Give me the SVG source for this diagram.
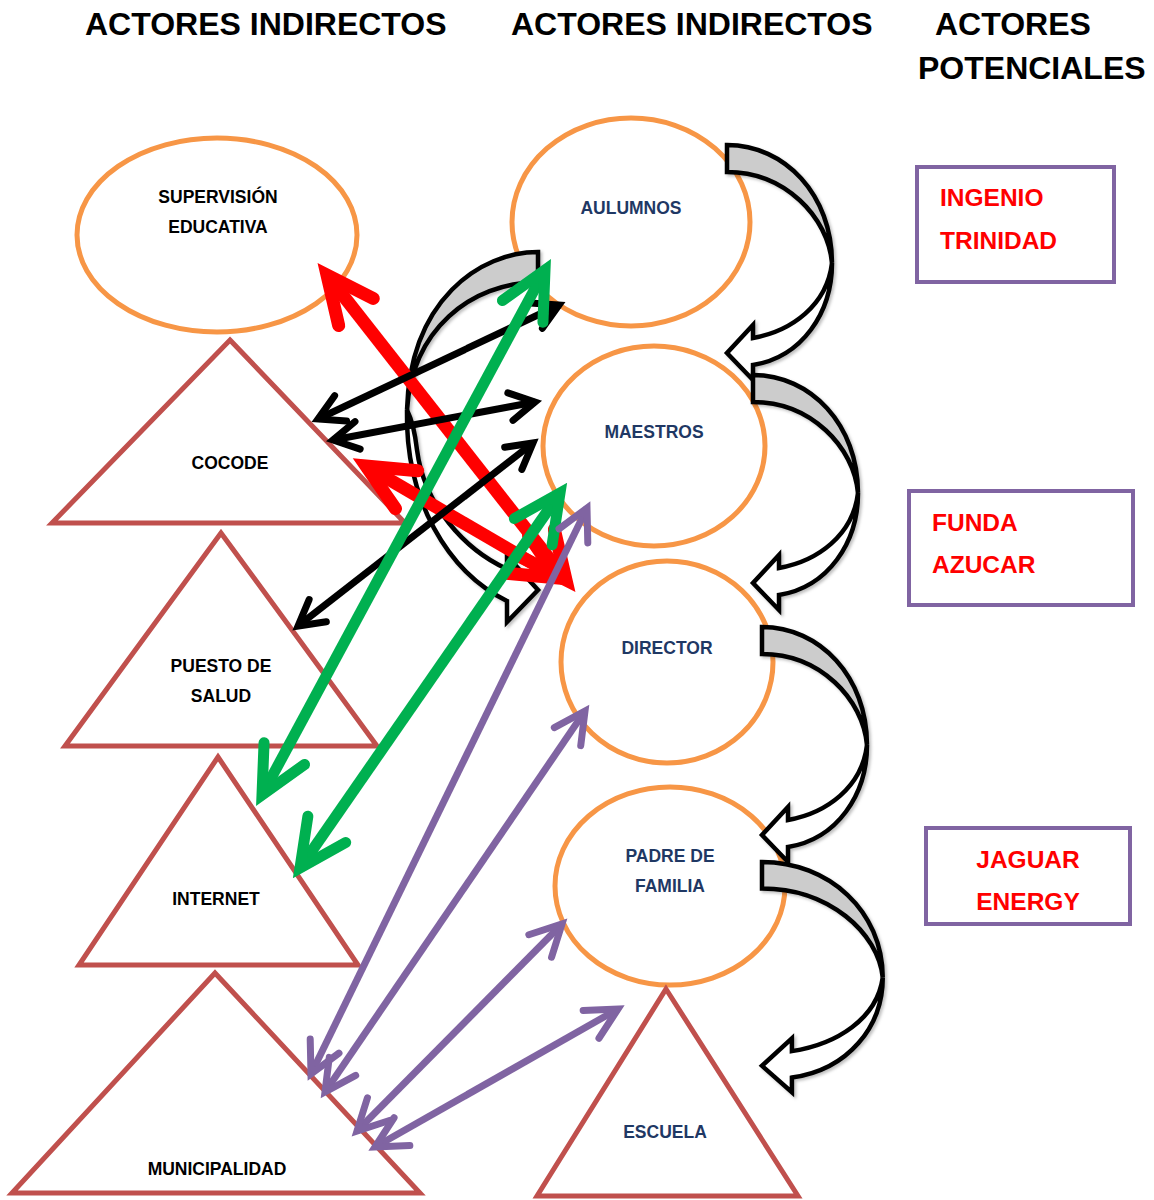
<svg xmlns="http://www.w3.org/2000/svg" xmlns:xlink="http://www.w3.org/1999/xlink" width="1154" height="1200" viewBox="0 0 1154 1200">
<style>
.title{font-family:"Liberation Sans",Arial,sans-serif;font-weight:bold;font-size:32px;fill:#000}
.lbl{font-family:"Liberation Sans",Arial,sans-serif;font-weight:bold;font-size:17.5px;text-anchor:middle}
.blk{fill:#000}
.blu{fill:#1F3864}
.box{fill:#fff;stroke:#8064A2;stroke-width:4}
.btx{font-family:"Liberation Sans",Arial,sans-serif;font-weight:bold;font-size:24.5px;fill:#FF0000}
.ell{fill:#fff;stroke:#F79646;stroke-width:5}
.tri{fill:#fff;stroke:#C0504D;stroke-width:5;stroke-linejoin:miter}
.back{fill:#CCCCCC;stroke:#000;stroke-width:4.5;stroke-linejoin:miter}
.front{fill:#fff;stroke:#000;stroke-width:4.5;stroke-linejoin:miter}
.red{stroke:#FF0000;stroke-width:13;fill:none;marker-start:url(#mr);marker-end:url(#mr)}
.black{stroke:#000;stroke-width:7;fill:none;marker-start:url(#mb);marker-end:url(#mb)}
.green{stroke:#00B050;stroke-width:11;fill:none;marker-start:url(#mg);marker-end:url(#mg)}
.purple{stroke:#8064A2;stroke-width:7;fill:none;marker-start:url(#mp);marker-end:url(#mp)}
</style>
<defs>
<filter id="sh" x="-10%" y="-10%" width="120%" height="120%">
<feDropShadow dx="2" dy="2" stdDeviation="1.5" flood-color="#000" flood-opacity="0.25"/>
</filter>
<marker id="mr" markerUnits="userSpaceOnUse" orient="auto-start-reverse" refX="0" refY="0" markerWidth="1" markerHeight="1" style="overflow:visible">
<path d="M-47,-22 L0,0 L-47,22" fill="none" stroke="#FF0000" stroke-width="13" stroke-linecap="round" stroke-linejoin="miter"/>
</marker>
<marker id="mb" markerUnits="userSpaceOnUse" orient="auto-start-reverse" refX="0" refY="0" markerWidth="1" markerHeight="1" style="overflow:visible">
<path d="M-25,-14 L0,0 L-25,14" fill="none" stroke="#000" stroke-width="7" stroke-linecap="round" stroke-linejoin="miter"/>
</marker>
<marker id="mg" markerUnits="userSpaceOnUse" orient="auto-start-reverse" refX="0" refY="0" markerWidth="1" markerHeight="1" style="overflow:visible">
<path d="M-47,-23 L0,0 L-47,23" fill="none" stroke="#00B050" stroke-width="11" stroke-linecap="round" stroke-linejoin="miter"/>
</marker>
<marker id="mp" markerUnits="userSpaceOnUse" orient="auto-start-reverse" refX="0" refY="0" markerWidth="1" markerHeight="1" style="overflow:visible">
<path d="M-31,-16 L0,0 L-31,16" fill="none" stroke="#8064A2" stroke-width="7" stroke-linecap="round" stroke-linejoin="miter"/>
</marker>
<g id="curv">
<path class="back" vector-effect="non-scaling-stroke" d="M0,0 C58,0 105,50 105,118 C101,72 58,27 0,27 Z"/>
<path class="front" vector-effect="non-scaling-stroke" d="M105,118 C105,168 75,212 26,220 L26,235 L0,208 L26,180 L26,193 C65,186 100,160 105,118 Z"/>
</g>
</defs>
<rect width="1154" height="1200" fill="#fff"/>

<g id="titles">
<text class="title" x="85" y="35">ACTORES INDIRECTOS</text>
<text class="title" x="511" y="35">ACTORES INDIRECTOS</text>
<text class="title" x="935" y="35">ACTORES</text>
<text class="title" x="918" y="79">POTENCIALES</text>
</g>

<g id="supervision">
<ellipse class="ell" cx="217" cy="235" rx="140" ry="97"/>
<text class="lbl blk" x="218" y="203">SUPERVISIÓN</text>
<text class="lbl blk" x="218" y="233">EDUCATIVA</text>
</g>
<g id="cocode">
<polygon class="tri" points="230,340 405,523 52,523"/>
<text class="lbl blk" x="230" y="469">COCODE</text>
</g>
<g id="puesto">
<polygon class="tri" points="221,533 377,746 65,746"/>
<text class="lbl blk" x="221" y="672">PUESTO DE</text>
<text class="lbl blk" x="221" y="702">SALUD</text>
</g>
<g id="internet">
<polygon class="tri" points="218,757 358,965 79,965"/>
<text class="lbl blk" x="216" y="905">INTERNET</text>
</g>
<g id="municipalidad">
<polygon class="tri" points="215,973 420,1193 12,1193"/>
<text class="lbl blk" x="217" y="1175">MUNICIPALIDAD</text>
</g>

<g id="aulumnos">
<ellipse class="ell" cx="631" cy="222" rx="119" ry="104"/>
<text class="lbl blu" x="631" y="214">AULUMNOS</text>
</g>
<g id="maestros">
<ellipse class="ell" cx="654" cy="446" rx="111" ry="100"/>
<text class="lbl blu" x="654" y="438">MAESTROS</text>
</g>
<g id="director">
<ellipse class="ell" cx="667" cy="662" rx="106" ry="101"/>
<text class="lbl blu" x="667" y="654">DIRECTOR</text>
</g>
<g id="padre">
<ellipse class="ell" cx="670" cy="886" rx="115" ry="99"/>
<text class="lbl blu" x="670" y="862">PADRE DE</text>
<text class="lbl blu" x="670" y="892">FAMILIA</text>
</g>
<g id="escuela">
<polygon class="tri" points="666,989 798,1196 537,1196"/>
<text class="lbl blu" x="665" y="1138">ESCUELA</text>
</g>

<g id="ingenio">
<rect class="box" x="917" y="167" width="197" height="115"/>
<text class="btx" x="940" y="206">INGENIO</text>
<text class="btx" x="940" y="249">TRINIDAD</text>
</g>
<g id="funda">
<rect class="box" x="909" y="491" width="224" height="114"/>
<text class="btx" x="932" y="531">FUNDA</text>
<text class="btx" x="932" y="573">AZUCAR</text>
</g>
<g id="jaguar">
<rect class="box" x="926" y="828" width="204" height="96"/>
<text class="btx" x="1028" y="868" text-anchor="middle">JAGUAR</text>
<text class="btx" x="1028" y="910" text-anchor="middle">ENERGY</text>
</g>

<g id="connectors">
<g id="curved" filter="url(#sh)">
<use xlink:href="#curv" transform="translate(727,145)"/>
<use xlink:href="#curv" transform="translate(753,375)"/>
<use xlink:href="#curv" transform="translate(762,627)"/>
<use xlink:href="#curv" transform="translate(762,862) scale(1.15,0.98)"/>
<path class="back" d="M538,252 C480,252 410,300 407,410 C412,330 470,283 538,282 Z"/>
<path class="front" d="M407,410 C405,500 448,572 507,601 L507,622 L538,590 L507,556 L507,569 C465,550 424,505 417,450 C415,432 411,418 407,410 Z"/>
</g>
<g id="lines">
<line class="red" x1="327" y1="275" x2="566" y2="580"/>
<line class="red" x1="366" y1="466" x2="558" y2="578"/>
<line class="black" x1="318" y1="419" x2="559" y2="305"/>
<line class="black" x1="333" y1="440" x2="535" y2="402"/>
<line class="black" x1="298" y1="626" x2="533" y2="443"/>
<line class="green" x1="262" y1="795" x2="545" y2="270"/>
<line class="green" x1="300" y1="868" x2="560" y2="493"/>
<line class="purple" x1="311" y1="1074" x2="587" y2="508"/>
<line class="purple" x1="325" y1="1092" x2="585" y2="711"/>
<line class="purple" x1="357" y1="1131" x2="562" y2="924"/>
<line class="purple" x1="375" y1="1147" x2="618" y2="1009"/>
</g>
</g>
</svg>
